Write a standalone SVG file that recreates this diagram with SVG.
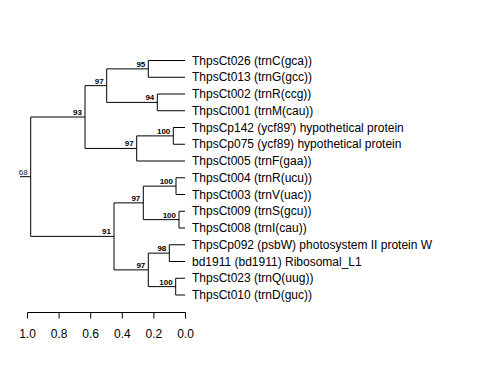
<svg xmlns="http://www.w3.org/2000/svg" width="480" height="384" viewBox="0 0 480 384">
<style>
.leaf{font-family:"Liberation Sans",Arial,sans-serif;font-size:12px;fill:#000}
.sup{font-family:"Liberation Sans",Arial,sans-serif;font-size:8px;font-weight:bold;fill:#000;text-anchor:end}
.root{font-family:"Liberation Sans",Arial,sans-serif;font-size:8px;fill:#222;text-anchor:end}
.edge{fill:none;stroke:#000;stroke-width:1}
.axis{fill:none;stroke:#000;stroke-width:1}
.tick{font-family:"Liberation Sans",Arial,sans-serif;font-size:12px;fill:#000;text-anchor:middle}
</style>
<rect width="480" height="384" fill="#fff"/>
<g id="connectors">
<path class="edge" d="M20,176.7H30.7 M30.7,117.03V236.375 M30.7,117.03H85 M30.7,236.375H114
M85,85.625V148.44 M85,85.625H106.7 M85,148.44H136.7
M106.7,68.875V102.375 M106.7,68.875H148.3 M106.7,102.375H157.3
M148.3,60.5V77.25 M148.3,60.5H185 M148.3,77.25H185
M157.3,94V110.75 M157.3,94H185 M157.3,110.75H185
M136.7,135.875V161 M136.7,135.875H173.3 M136.7,161H185
M173.3,127.5V144.25 M173.3,127.5H185 M173.3,144.25H185
M114,202.875V269.875 M114,202.875H143.3 M114,269.875H148.3
M143.3,186.125V219.625 M143.3,186.125H176 M143.3,219.625H179
M176,177.75V194.5 M176,177.75H185 M176,194.5H185
M179,211.25V228 M179,211.25H185 M179,228H185
M148.3,253.125V286.625 M148.3,253.125H169.3 M148.3,286.625H175.7
M169.3,244.75V261.5 M169.3,244.75H185 M169.3,261.5H185
M175.7,278.25V295 M175.7,278.25H185 M175.7,295H185"/>
</g>
<g id="leaf-ThpsCt026"><text class="leaf" x="192" y="64.7">ThpsCt026 (trnC(gca))</text></g>
<g id="leaf-ThpsCt013"><text class="leaf" x="192" y="81.45">ThpsCt013 (trnG(gcc))</text></g>
<g id="leaf-ThpsCt002"><text class="leaf" x="192" y="98.2">ThpsCt002 (trnR(ccg))</text></g>
<g id="leaf-ThpsCt001"><text class="leaf" x="192" y="114.95">ThpsCt001 (trnM(cau))</text></g>
<g id="leaf-ThpsCp142"><text class="leaf" x="192" y="131.7">ThpsCp142 (ycf89') hypothetical protein</text></g>
<g id="leaf-ThpsCp075"><text class="leaf" x="192" y="148.45">ThpsCp075 (ycf89) hypothetical protein</text></g>
<g id="leaf-ThpsCt005"><text class="leaf" x="192" y="165.2">ThpsCt005 (trnF(gaa))</text></g>
<g id="leaf-ThpsCt004"><text class="leaf" x="192" y="181.95">ThpsCt004 (trnR(ucu))</text></g>
<g id="leaf-ThpsCt003"><text class="leaf" x="192" y="198.7">ThpsCt003 (trnV(uac))</text></g>
<g id="leaf-ThpsCt009"><text class="leaf" x="192" y="215.45">ThpsCt009 (trnS(gcu))</text></g>
<g id="leaf-ThpsCt008"><text class="leaf" x="192" y="232.2">ThpsCt008 (trnI(cau))</text></g>
<g id="leaf-ThpsCp092"><text class="leaf" x="192" y="248.95">ThpsCp092 (psbW) photosystem II protein W</text></g>
<g id="leaf-bd1911"><text class="leaf" x="192" y="265.7">bd1911 (bd1911) Ribosomal_L1</text></g>
<g id="leaf-ThpsCt023"><text class="leaf" x="192" y="282.45">ThpsCt023 (trnQ(uug))</text></g>
<g id="leaf-ThpsCt010"><text class="leaf" x="192" y="299.2">ThpsCt010 (trnD(guc))</text></g>
<g id="node-root"><text class="root" x="27.7" y="174.7">68</text></g>
<g id="node-93"><text class="sup" x="82" y="115">93</text></g>
<g id="node-97u"><text class="sup" x="103.7" y="83.6">97</text></g>
<g id="node-95"><text class="sup" x="145.3" y="66.9">95</text></g>
<g id="node-94"><text class="sup" x="154.3" y="100.4">94</text></g>
<g id="node-97m"><text class="sup" x="133.7" y="146.4">97</text></g>
<g id="node-100a"><text class="sup" x="170.3" y="133.9">100</text></g>
<g id="node-91"><text class="sup" x="111" y="234.4">91</text></g>
<g id="node-97a"><text class="sup" x="140.3" y="200.9">97</text></g>
<g id="node-100b"><text class="sup" x="173" y="184.1">100</text></g>
<g id="node-100c"><text class="sup" x="176" y="217.6">100</text></g>
<g id="node-97b"><text class="sup" x="145.3" y="267.9">97</text></g>
<g id="node-98"><text class="sup" x="166.3" y="251.1">98</text></g>
<g id="node-100d"><text class="sup" x="172.7" y="284.6">100</text></g>
<g id="scale-axis">
<path class="axis" d="M27.5,312.5H185.5 M27.5,312.5V318.5 M59.1,312.5V318.5 M90.7,312.5V318.5 M122.3,312.5V318.5 M153.9,312.5V318.5 M185.5,312.5V318.5"/>
<text class="tick" x="27.5" y="338">1.0</text>
<text class="tick" x="59.1" y="338">0.8</text>
<text class="tick" x="90.7" y="338">0.6</text>
<text class="tick" x="122.3" y="338">0.4</text>
<text class="tick" x="153.9" y="338">0.2</text>
<text class="tick" x="185.5" y="338">0.0</text>
</g>
</svg>
